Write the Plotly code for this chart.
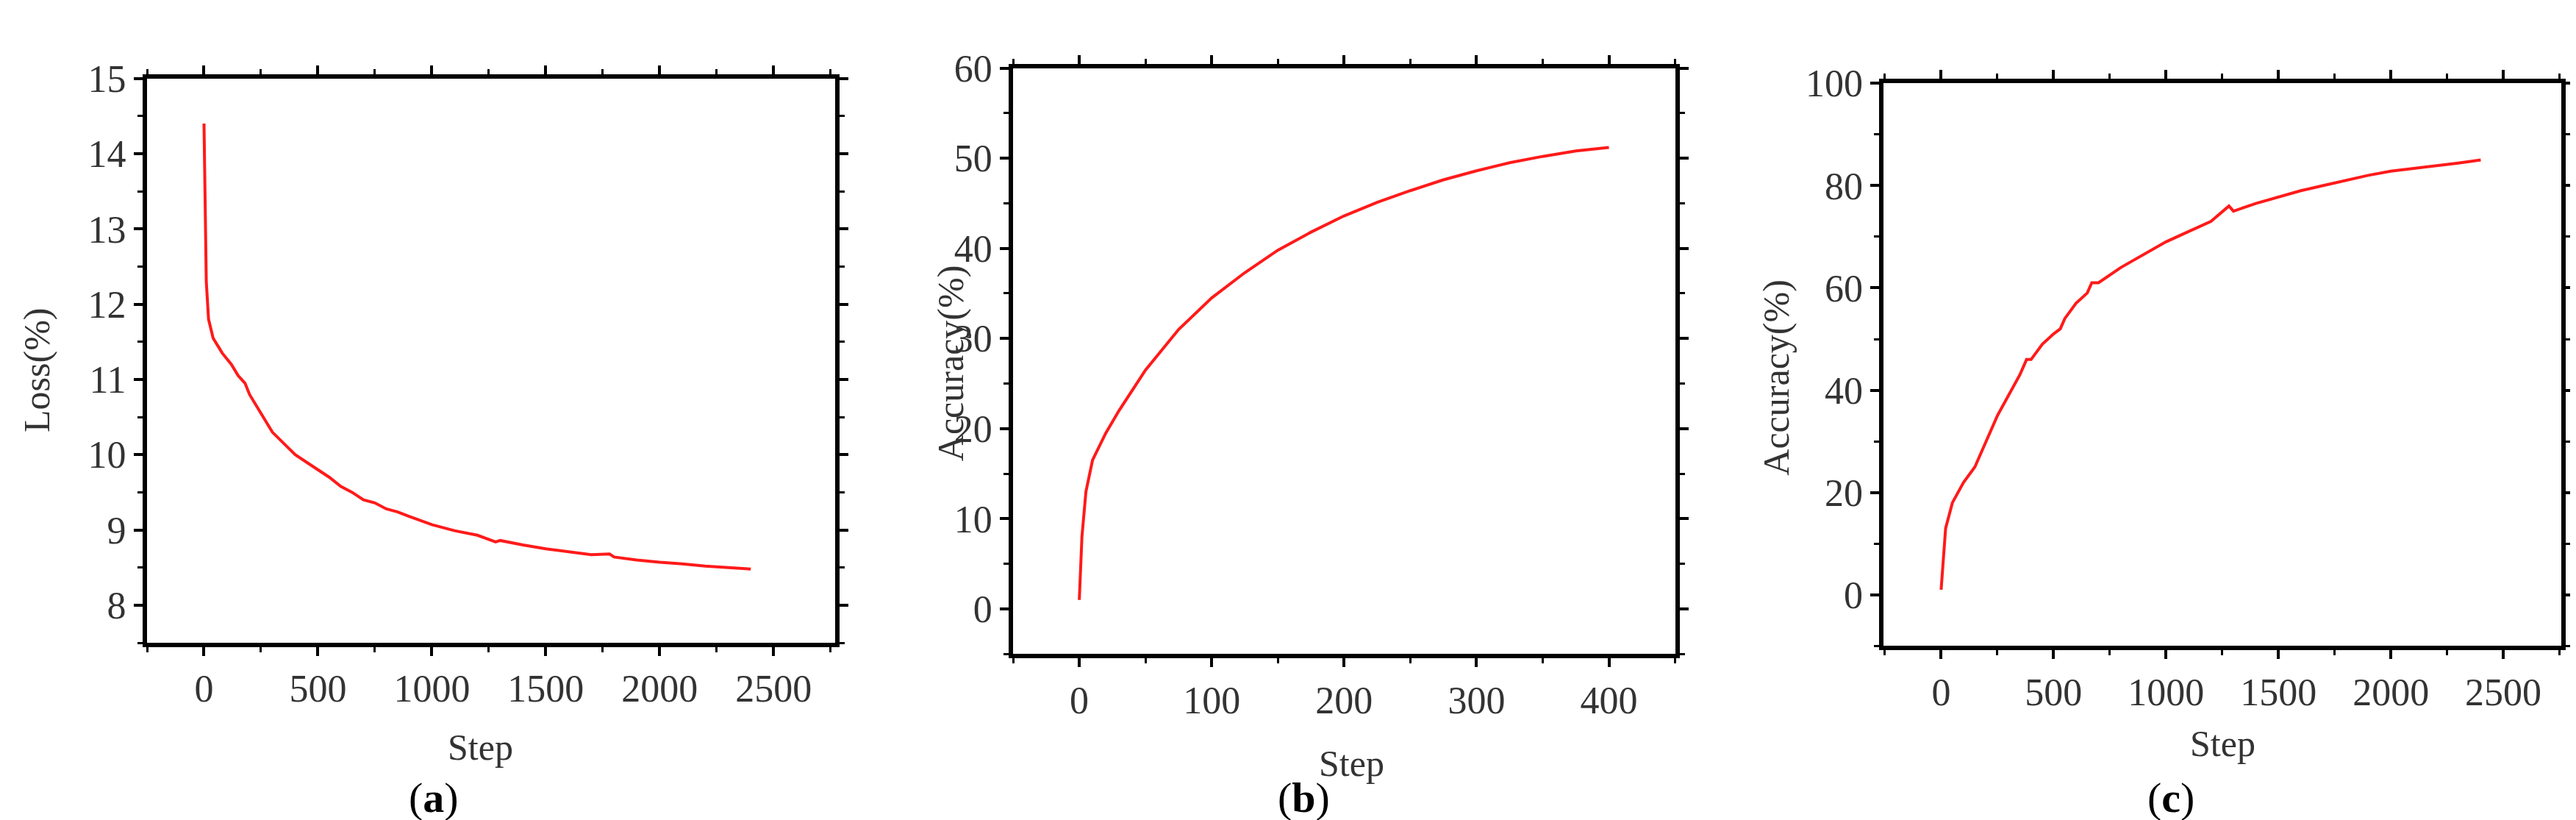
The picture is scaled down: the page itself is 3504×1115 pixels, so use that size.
import plotly.graph_objects as go

# (a) loss
loss_step = [0, 5, 10, 20, 40, 60, 80, 120, 150, 180, 200, 250, 300, 350, 400, 450, 500, 550, 600, 650,
             700, 750, 800, 850, 900, 1000, 1100, 1200, 1280, 1300, 1400, 1500, 1600, 1700, 1780, 1800,
             1900, 2000, 2100, 2200, 2300, 2400]
loss_val = [14.4, 13.0, 12.3, 11.8, 11.55, 11.45, 11.35, 11.2, 11.05, 10.95, 10.8, 10.55, 10.3, 10.15, 10.0,
            9.9, 9.8, 9.7, 9.58, 9.5, 9.4, 9.36, 9.28, 9.24, 9.18, 9.07, 8.99, 8.93, 8.84, 8.86, 8.8, 8.75,
            8.71, 8.67, 8.68, 8.64, 8.6, 8.57, 8.55, 8.52, 8.5, 8.48]

# (b) accuracy
accb_step = [0, 2, 5, 10, 20, 30, 50, 75, 100, 125, 150, 175, 200, 225, 250, 275, 300, 325, 350, 375, 400]
accb_val = [1, 8, 13, 16.5, 19.5, 22, 26.5, 31, 34.5, 37.3, 39.8, 41.8, 43.6, 45.1, 46.4, 47.6, 48.6,
            49.5, 50.2, 50.8, 51.2]

# (c) accuracy
accc_step = [0, 10, 20, 50, 100, 150, 200, 250, 300, 350, 380, 400, 450, 500, 530, 550, 600, 650, 670, 700,
             800, 900, 1000, 1100, 1200, 1280, 1300, 1400, 1500, 1600, 1700, 1800, 1900, 2000, 2100, 2200,
             2300, 2400]
accc_val = [1, 8, 13, 18, 22, 25, 30, 35, 39, 43, 46, 46, 49, 51, 52, 54, 57, 59, 61, 61, 64, 66.5, 69, 71,
            73, 76, 75, 76.5, 77.8, 79, 80, 81, 82, 82.8, 83.3, 83.8, 84.4, 85]

RED = "#ff1a1a"
FONT = "Liberation Serif"

fig = go.Figure()
fig.add_trace(go.Scatter(x=loss_step, y=loss_val, mode="lines", line=dict(color=RED, width=4),
                         xaxis="x", yaxis="y"))
fig.add_trace(go.Scatter(x=accb_step, y=accb_val, mode="lines", line=dict(color=RED, width=4),
                         xaxis="x2", yaxis="y2"))
fig.add_trace(go.Scatter(x=accc_step, y=accc_val, mode="lines", line=dict(color=RED, width=4),
                         xaxis="x3", yaxis="y3"))

axis = dict(showgrid=False, zeroline=False, showline=True, linecolor="black", linewidth=6,
            mirror="ticks", ticks="outside", ticklen=12, tickwidth=4, tickcolor="black",
            tickfont=dict(family=FONT, size=52, color="#333"))


def minor(step):
    return dict(ticks="outside", ticklen=7, tickwidth=3, tickcolor="black", dtick=step)


fig.update_layout(
    width=3504, height=1115, margin=dict(l=0, r=0, t=0, b=0),
    paper_bgcolor="white", plot_bgcolor="white", showlegend=False,
    xaxis=dict(axis, domain=[0.0548, 0.3219], range=[-250, 2770], dtick=500, minor=minor(250), anchor="y"),
    yaxis=dict(axis, domain=[0.229, 0.935], range=[7.5, 15], dtick=1, minor=minor(0.5), anchor="x"),
    xaxis2=dict(axis, domain=[0.391, 0.648], range=[-50, 450], dtick=100, minor=minor(50), anchor="y2"),
    yaxis2=dict(axis, domain=[0.215, 0.948], range=[-5, 60], dtick=10, minor=minor(5), anchor="x2"),
    xaxis3=dict(axis, domain=[0.729, 0.992], range=[-255, 2758], dtick=500, minor=minor(250), anchor="y3"),
    yaxis3=dict(axis, domain=[0.225, 0.929], range=[-10, 100], dtick=20, minor=minor(10), anchor="x3"),
)

txt = dict(family=FONT, size=50, color="#333")
lab = dict(family=FONT, size=58, color="black")
anns = [
    dict(x=645 / 3504, y=1 - 1005 / 1115, text="Step", font=txt),
    dict(x=1830 / 3504, y=1 - 1028 / 1115, text="Step", font=txt),
    dict(x=3015 / 3504, y=1 - 1000 / 1115, text="Step", font=txt),
    dict(x=42 / 3504, y=1 - 480 / 1115, text="Loss(%)", font=txt, textangle=-90),
    dict(x=1285 / 3504, y=1 - 470 / 1115, text="Accuracy(%)", font=txt, textangle=-90),
    dict(x=2408 / 3504, y=1 - 490 / 1115, text="Accuracy(%)", font=txt, textangle=-90),
    dict(x=582 / 3504, y=1 - 1075 / 1115, text="(<b>a</b>)", font=lab),
    dict(x=1765 / 3504, y=1 - 1075 / 1115, text="(<b>b</b>)", font=lab),
    dict(x=2945 / 3504, y=1 - 1075 / 1115, text="(<b>c</b>)", font=lab),
]
for a in anns:
    fig.add_annotation(a, xref="paper", yref="paper", showarrow=False, xanchor="center", yanchor="middle")

fig.write_html("out.html")
